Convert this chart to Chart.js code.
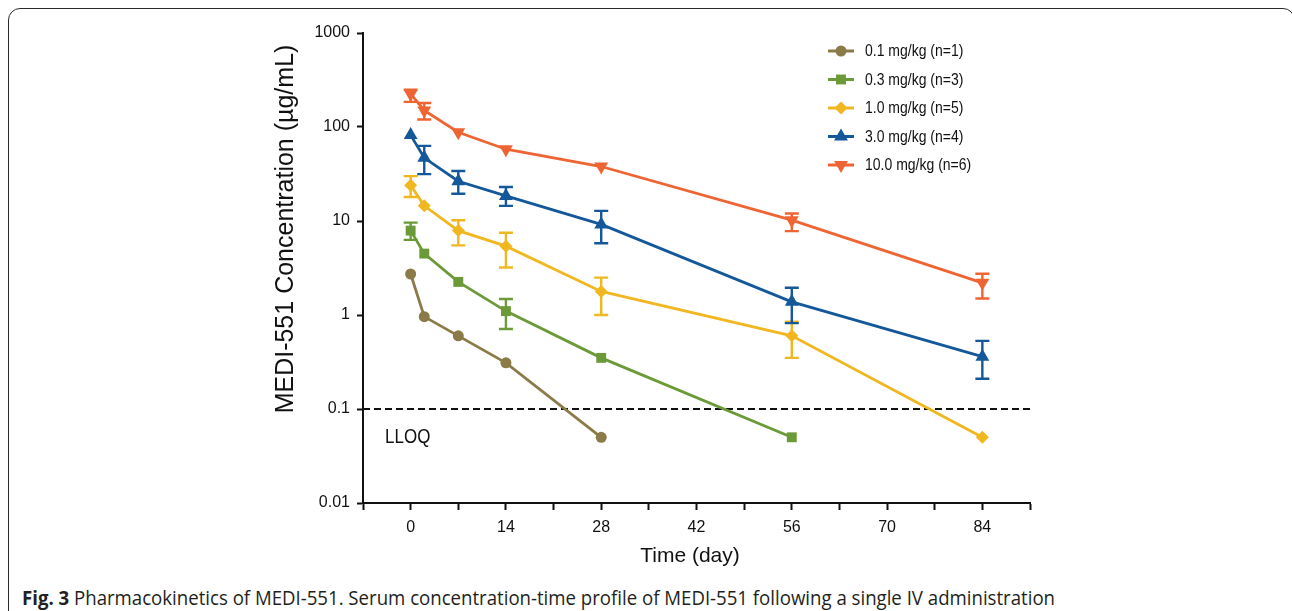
<!DOCTYPE html>
<html>
<head>
<meta charset="utf-8">
<script src="https://cdn.jsdelivr.net/npm/chart.js@4.4.1/dist/chart.umd.min.js"></script>
<style>
html, body { margin: 0; padding: 0; background: #fff; }
body { width: 1292px; height: 611px; position: relative; overflow: hidden; font-family: "Liberation Sans", Arial, sans-serif; }
#frame { position: absolute; left: 8px; top: 8px; width: 1287px; height: 700px; border: 1.5px solid #2a2a2a; border-radius: 12px; box-sizing: border-box; }
#wrap { position: absolute; left: 0; top: 0; width: 1292px; height: 575px; }
#caption { position: absolute; left: 22px; top: 584px; font-size: 19.5px; color: #231f20; white-space: nowrap; transform-origin: 0 0;
  font-family: "Liberation Sans Narrow", "Open Sans", sans-serif; }
#caption b { font-weight: bold; }
</style>
</head>
<body>
<div id="frame"></div>
<div id="wrap"><canvas id="myChart"></canvas></div>
<div id="caption"><b>Fig. 3</b> Pharmacokinetics of MEDI-551. Serum concentration-time profile of MEDI-551 following a single IV administration</div>
<script>
// sampling days
const days = [0, 2, 7, 14, 28, 56, 84];

// mean concentrations (µg/mL)
const dose01 = [2.73, 0.96, 0.6, 0.31, 0.05, null, null];
const dose03 = [7.9, 4.5, 2.25, 1.1, 0.35, 0.05, null];
const dose10 = [24, 14.5, 7.9, 5.4, 1.78, 0.6, 0.05];
const dose30 = [82, 47, 26.5, 18.5, 9.2, 1.38, 0.36];
const dose100 = [225, 150, 88, 58, 38, 10.2, 2.2];

// error bar ends (upper / lower), null = no bar
const err03Hi = [9.6, null, null, 1.48, null, null, null];
const err03Lo = [6.3, null, null, 0.71, null, null, null];
const err10Hi = [30, null, 10.2, 7.5, 2.5, 0.85, null];
const err10Lo = [18, null, 5.5, 3.2, 1.0, 0.35, null];
const err30Hi = [null, 63, 34, 23, 12.8, 1.95, 0.53];
const err30Lo = [null, 31.5, 19.5, 14.5, 5.8, 0.82, 0.21];
const err100Hi = [250, 180, null, null, null, 12, 2.75];
const err100Lo = [185, 120, null, null, null, 7.8, 1.5];

const seriesLabels = ['0.1 mg/kg (n=1)', '0.3 mg/kg (n=3)', '1.0 mg/kg (n=5)', '3.0 mg/kg (n=4)', '10.0 mg/kg (n=6)'];
const yTicks = [0.01, 0.1, 1, 10, 100, 1000];
const lloq = 0.1;
const xTitle = 'Time (day)';
const yTitle = 'MEDI-551 Concentration (µg/mL)';

function toPoints(vals) {
    const pts = [];
    vals.forEach((v, i) => { if (v !== null) pts.push({ x: days[i], y: v }); });
    return pts;
}

function makeSet(label, vals, color, style, radius, rotation, hi, lo) {
    return {
        label: label,
        data: toPoints(vals),
        borderColor: color,
        backgroundColor: color,
        borderWidth: 2.8,
        pointStyle: style,
        pointRadius: radius,
        pointRotation: rotation,
        pointBorderWidth: 0,
        tension: 0,
        errHi: hi,
        errLo: lo
    };
}

const datasets = [
    makeSet(seriesLabels[0], dose01, '#8a7b48', 'circle', 5.5, 0, null, null),
    makeSet(seriesLabels[1], dose03, '#6c9a38', 'rect', 7, 0, err03Hi, err03Lo),
    makeSet(seriesLabels[2], dose10, '#f0b720', 'rectRot', 6.5, 0, err10Hi, err10Lo),
    makeSet(seriesLabels[3], dose30, '#14589a', 'triangle', 8, 0, err30Hi, err30Lo),
    makeSet(seriesLabels[4], dose100, '#ef6433', 'triangle', 8, 180, err100Hi, err100Lo)
];

// error bars, drawn under the lines/markers
const errorBars = {
    id: 'errorBars',
    beforeDatasetsDraw(chart) {
        const ctx = chart.ctx;
        const xs = chart.scales.x, ys = chart.scales.y;
        chart.data.datasets.forEach(ds => {
            if (!ds.errHi) return;
            ctx.save();
            ctx.strokeStyle = ds.borderColor;
            ctx.lineWidth = 2.4;
            days.forEach((d, i) => {
                const hi = ds.errHi[i], lo = ds.errLo[i];
                if (hi === null && lo === null) return;
                const x = xs.getPixelForValue(d);
                const y1 = ys.getPixelForValue(hi), y2 = ys.getPixelForValue(lo);
                ctx.beginPath();
                ctx.moveTo(x, y1); ctx.lineTo(x, y2);
                ctx.moveTo(x - 7, y1); ctx.lineTo(x + 7, y1);
                ctx.moveTo(x - 7, y2); ctx.lineTo(x + 7, y2);
                ctx.stroke();
            });
            ctx.restore();
        });
    }
};

// text a bit taller than wide, like the figure
function tallText(ctx, text, x, y, size) {
    ctx.save();
    ctx.translate(x, y);
    ctx.scale(1, 1.14);
    ctx.font = size + 'px "Liberation Sans", Arial, sans-serif';
    ctx.textBaseline = 'middle';
    ctx.fillText(text, 0, 0);
    ctx.restore();
}

// LLOQ dashed line + label
const lloqLine = {
    id: 'lloqLine',
    beforeDatasetsDraw(chart) {
        const ctx = chart.ctx;
        const area = chart.chartArea;
        const y = chart.scales.y.getPixelForValue(lloq);
        ctx.save();
        ctx.strokeStyle = '#111';
        ctx.lineWidth = 2;
        ctx.setLineDash([7, 4]);
        ctx.beginPath();
        ctx.moveTo(area.left, y);
        ctx.lineTo(area.right, y);
        ctx.stroke();
        ctx.setLineDash([]);
        ctx.fillStyle = '#111';
        tallText(ctx, 'LLOQ', area.left + 22, y + 29, 17);
        ctx.restore();
    }
};

// axis titles, placed where the figure has them
const axisTitles = {
    id: 'axisTitles',
    afterDraw(chart) {
        const ctx = chart.ctx;
        const area = chart.chartArea;
        ctx.save();
        ctx.fillStyle = '#111';
        ctx.textAlign = 'center';
        ctx.textBaseline = 'middle';
        ctx.font = '21px "Liberation Sans", Arial, sans-serif';
        ctx.fillText(xTitle, area.left + 327, area.bottom + 53);
        ctx.translate(area.left - 77, area.top + 196);
        ctx.rotate(-Math.PI / 2);
        ctx.font = '25px "Liberation Sans", Arial, sans-serif';
        ctx.fillText(yTitle, 0, 0);
        ctx.restore();
    }
};

// legend with line + marker
const lineLegend = {
    id: 'lineLegend',
    afterDraw(chart) {
        const ctx = chart.ctx;
        ctx.save();
        chart.data.datasets.forEach((ds, i) => {
            const y = 51 + i * 28.5;
            ctx.strokeStyle = ds.borderColor;
            ctx.fillStyle = ds.backgroundColor;
            ctx.lineWidth = 3;
            ctx.beginPath();
            ctx.moveTo(828, y); ctx.lineTo(854, y);
            ctx.stroke();
            Chart.helpers.drawPoint(ctx, {
                pointStyle: ds.pointStyle,
                rotation: ds.pointRotation,
                radius: ds.pointRadius,
                borderWidth: 0
            }, 841, y);
            ctx.fillStyle = '#111';
            tallText(ctx, ds.label, 865, y + 1, 14);
        });
        ctx.restore();
    }
};

Chart.defaults.font.family = '"Liberation Sans", Arial, sans-serif';
Chart.defaults.color = '#111';

const ctx = document.getElementById('myChart').getContext('2d');
const myChart = new Chart(ctx, {
    type: 'line',
    data: { datasets: datasets },
    options: {
        responsive: true,
        maintainAspectRatio: false,
        animation: false,
        layout: { padding: { left: 0, top: 33, right: 262, bottom: 0 } },
        scales: {
            x: {
                type: 'linear',
                min: -7,
                max: 91,
                afterFit: s => { s.height = 72; },
                ticks: {
                    stepSize: 7,
                    padding: 8,
                    font: { size: 16 },
                    color: '#111',
                    callback: v => (v % 14 === 0 ? String(v) : '')
                },
                grid: { drawOnChartArea: false, drawTicks: true, tickLength: 7, tickWidth: 2, tickColor: '#111' },
                border: { display: true, color: '#111', width: 2 },
                title: { display: false }
            },
            y: {
                type: 'logarithmic',
                min: 0.01,
                max: 1000,
                afterFit: s => { s.width = 363; },
                afterBuildTicks: s => { s.ticks = yTicks.map(v => ({ value: v })); },
                ticks: {
                    padding: 7,
                    font: { size: 16 },
                    color: '#111',
                    callback: v => String(v)
                },
                grid: { drawOnChartArea: false, drawTicks: true, tickLength: 6, tickWidth: 2, tickColor: '#111' },
                border: { display: true, color: '#111', width: 2 },
                title: { display: false }
            }
        },
        plugins: {
            legend: { display: false },
            tooltip: { enabled: false }
        }
    },
    plugins: [errorBars, lloqLine, axisTitles, lineLegend]
});

// squeeze the caption to its width in the figure
const cap = document.getElementById('caption');
const w = cap.getBoundingClientRect().width;
cap.style.transform = 'scaleX(' + (1033 / w) + ')';
</script>
</body>
</html>
